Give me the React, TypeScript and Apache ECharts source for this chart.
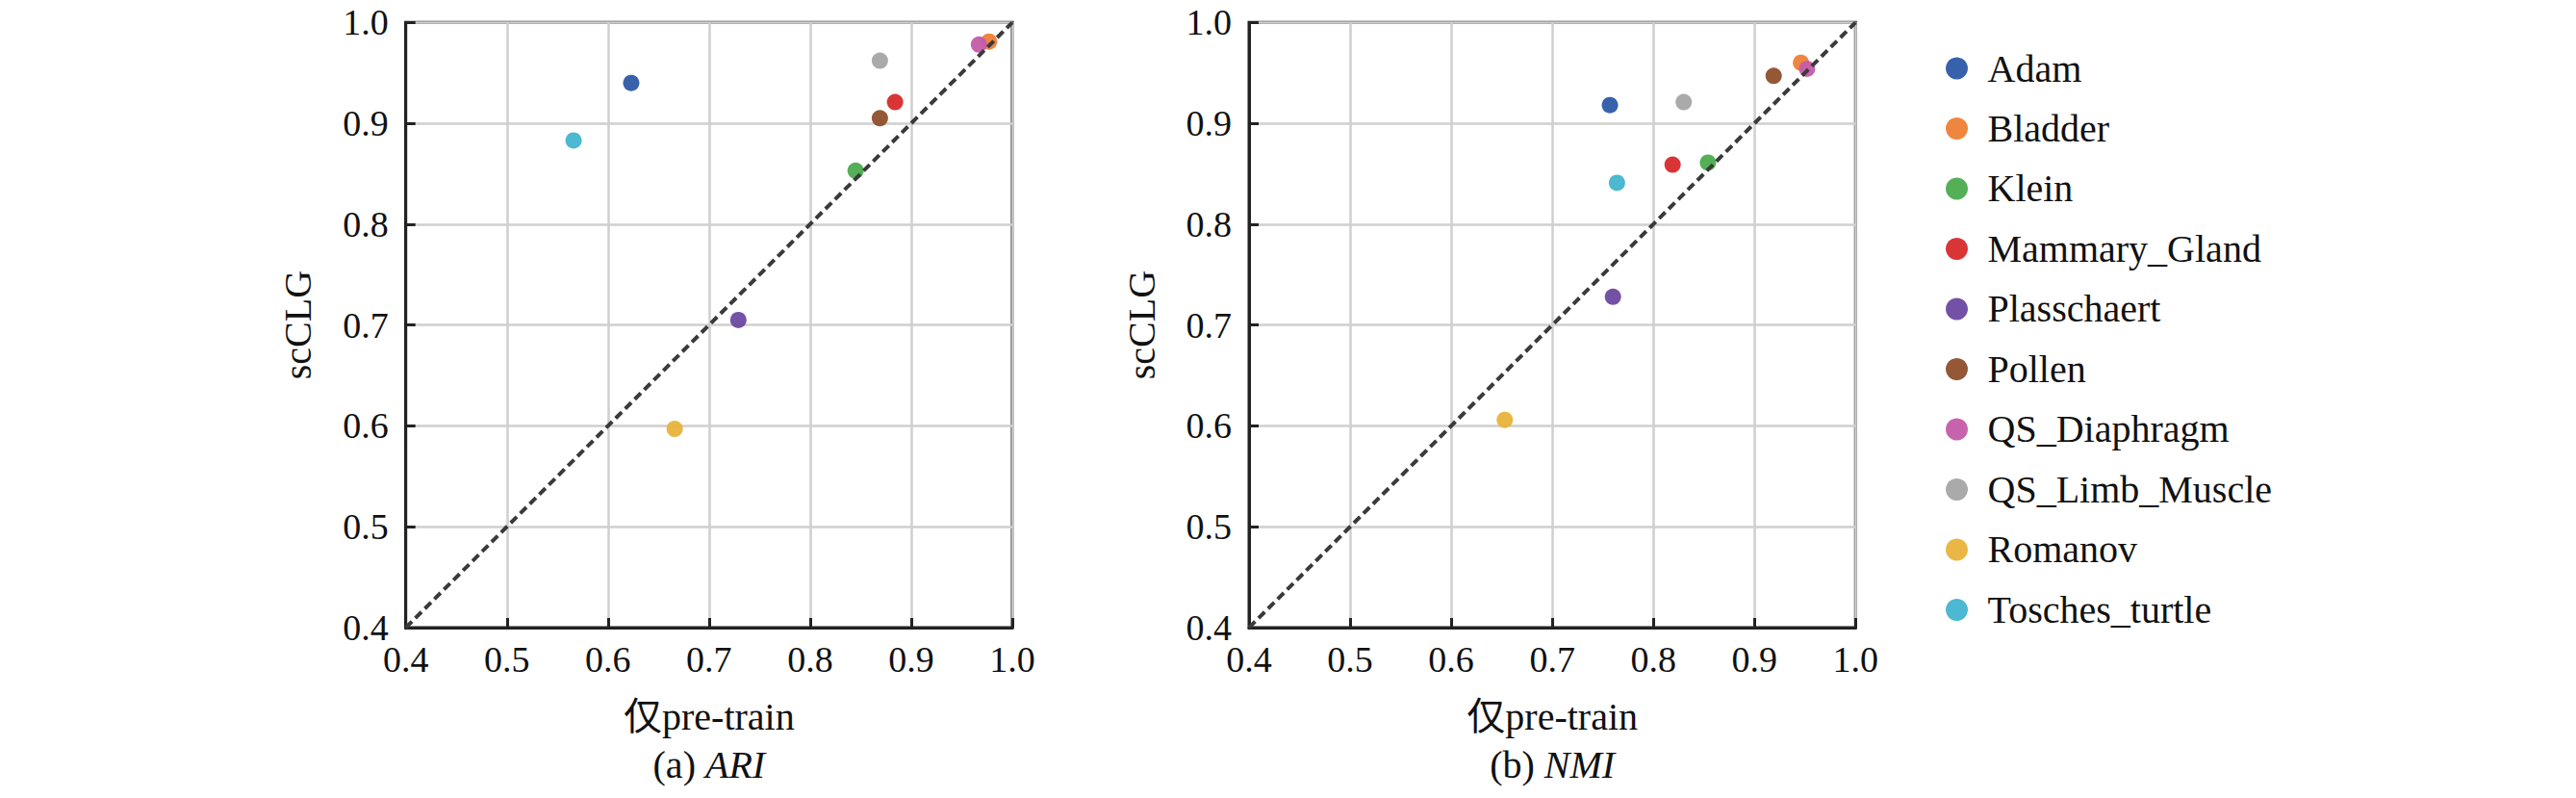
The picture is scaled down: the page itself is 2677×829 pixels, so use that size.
import React, { useEffect, useRef } from "react";
import * as echarts from "echarts";

const categories = [
  "Adam",
  "Bladder",
  "Klein",
  "Mammary_Gland",
  "Plasschaert",
  "Pollen",
  "QS_Diaphragm",
  "QS_Limb_Muscle",
  "Romanov",
  "Tosches_turtle",
];
const colors = [
  "#2c59a7",
  "#ee8035",
  "#4bab4e",
  "#d82a2b",
  "#6b49a1",
  "#8f4f2b",
  "#c45ba9",
  "#a5a5a5",
  "#e9b23a",
  "#42b4cf",
];
const ariPretrain = [0.623, 0.977, 0.845, 0.884, 0.729, 0.869, 0.967, 0.869, 0.666, 0.566];
const ariScclg = [0.94, 0.981, 0.853, 0.921, 0.705, 0.905, 0.978, 0.962, 0.597, 0.883];
const nmiPretrain = [0.757, 0.946, 0.854, 0.819, 0.76, 0.919, 0.952, 0.83, 0.653, 0.764];
const nmiScclg = [0.918, 0.96, 0.861, 0.859, 0.728, 0.947, 0.954, 0.921, 0.606, 0.841];
const diagonal = [0.4, 1.0];
const axisMin = 0.4;
const axisMax = 1.0;
const axisStep = 0.1;
const xName = "仅pre-train";
const yName = "scCLG";
const captions = [
  { prefix: "(a) ", metric: "ARI" },
  { prefix: "(b) ", metric: "NMI" },
];

const FONT = '"Liberation Serif", "Times New Roman", "Noto Sans CJK SC", serif';

export default function App() {
  const ref = useRef<HTMLDivElement>(null);

  useEffect(() => {
    if (!ref.current) return;
    const chart = echarts.init(ref.current, undefined, { renderer: "svg" });

    const grids = [
      { left: 421.7, top: 23.3, width: 630.3, height: 628.7 },
      { left: 1298, top: 23.3, width: 630.3, height: 628.7 },
    ];

    const makeX = (gi: number) => ({
      type: "value",
      gridIndex: gi,
      min: axisMin,
      max: axisMax,
      interval: axisStep,
      name: xName,
      nameLocation: "middle",
      nameGap: 72,
      nameTextStyle: { fontFamily: FONT, fontSize: 40, color: "#111" },
      axisLine: { show: true, lineStyle: { color: "#222", width: 3 } },
      axisTick: { show: true, inside: true, length: 10, lineStyle: { color: "#222", width: 3 } },
      axisLabel: {
        fontFamily: FONT,
        fontSize: 38,
        color: "#111",
        margin: 14,
        formatter: (v: number) => v.toFixed(1),
      },
      splitLine: { show: true, lineStyle: { color: "#cfcfcf", width: 2.5 } },
    });
    const makeY = (gi: number) => ({
      type: "value",
      gridIndex: gi,
      min: axisMin,
      max: axisMax,
      interval: axisStep,
      name: yName,
      nameLocation: "middle",
      nameGap: 92,
      nameTextStyle: { fontFamily: FONT, fontSize: 40, color: "#111" },
      axisLine: { show: true, lineStyle: { color: "#222", width: 3 } },
      axisTick: { show: true, inside: true, length: 10, lineStyle: { color: "#222", width: 3 } },
      axisLabel: {
        fontFamily: FONT,
        fontSize: 38,
        color: "#111",
        margin: 18,
        formatter: (v: number) => v.toFixed(1),
      },
      splitLine: { show: true, lineStyle: { color: "#cfcfcf", width: 2.5 } },
    });

    const datasets = [
      { xs: ariPretrain, ys: ariScclg },
      { xs: nmiPretrain, ys: nmiScclg },
    ];

    const series: any[] = [];
    datasets.forEach((ds, gi) => {
      categories.forEach((name, i) => {
        series.push({
          type: "scatter",
          name,
          xAxisIndex: gi,
          yAxisIndex: gi,
          symbol: "circle",
          symbolSize: 17,
          itemStyle: { color: colors[i], opacity: 0.95 },
          data: [[ds.xs[i], ds.ys[i]]],
          z: 2,
        });
      });
      series.push({
        type: "line",
        xAxisIndex: gi,
        yAxisIndex: gi,
        symbol: "none",
        silent: true,
        data: diagonal.map((v) => [v, v]),
        lineStyle: { color: "#3a3a3a", width: 4, type: [9, 5] },
        z: 3,
      });
    });

    const captionGraphics = grids.map((g, gi) => ({
      type: "text",
      x: g.left + g.width / 2,
      y: 794,
      style: {
        text: `${captions[gi].prefix}{i|${captions[gi].metric}}`,
        fontFamily: FONT,
        fontSize: 40,
        fill: "#111",
        align: "center",
        verticalAlign: "middle",
        rich: {
          i: { fontFamily: FONT, fontSize: 40, fontStyle: "italic", fill: "#111" },
        },
      },
    }));

    chart.setOption({
      animation: false,
      backgroundColor: "#fff",
      grid: grids.map((g) => ({
        ...g,
        show: true,
        borderColor: "#222",
        borderWidth: 3,
        backgroundColor: "transparent",
      })),
      xAxis: [makeX(0), makeX(1)],
      yAxis: [makeY(0), makeY(1)],
      legend: {
        orient: "vertical",
        left: 2017,
        top: 46,
        itemWidth: 54,
        itemHeight: 23,
        itemGap: 22.5,
        icon: "circle",
        data: categories,
        textStyle: { fontFamily: FONT, fontSize: 40, color: "#111" },
      },
      graphic: captionGraphics,
      series,
    });

    return () => chart.dispose();
  }, []);

  return (
    <div
      ref={ref}
      style={{ position: "absolute", left: 0, top: 0, width: 2677, height: 829 }}
    />
  );
}
